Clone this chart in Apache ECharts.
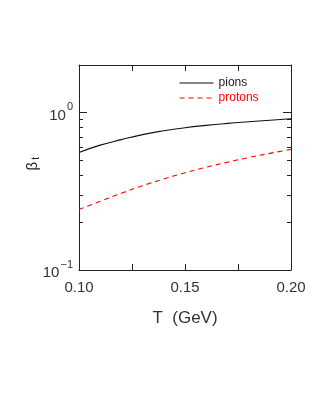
<!DOCTYPE html>
<html><head><meta charset="utf-8">
<script src="https://cdn.jsdelivr.net/npm/echarts@6/dist/echarts.min.js"></script>
<style>html,body{margin:0;padding:0;background:#fff}#c{width:327px;height:409px}</style>
</head><body><div id="c"></div>
<script>
const T = [0.10,0.11,0.12,0.13,0.14,0.15,0.16,0.17,0.18,0.19,0.20];
const pions = [0.557,0.62,0.672,0.723,0.765,0.80,0.828,0.852,0.873,0.893,0.912];
const protons = [0.242,0.273,0.307,0.343,0.378,0.414,0.449,0.483,0.517,0.55,0.583];
const xLabels = [0.10,0.15,0.20];
const yMajor = [0.1,1];
const yMinor = [0.2,0.3,0.4,0.5,0.6,0.7,0.8,0.9];
const FONT = 'Liberation Sans, Arial, sans-serif';
const chart = echarts.init(document.getElementById('c'));
const lineC = '#222';
function yax(pos, ticks, len, labels, showLine){
  return {type:'log', logBase:10, min:0.1, max:2, position:pos,
    axisLine:{show:showLine, lineStyle:{color:lineC,width:1}},
    axisTick:{show:true, inside:true, length:len, customValues:ticks, lineStyle:{color:lineC}},
    axisLabel:labels ? {show:true, customValues:yMajor, margin:6, color:'#333', fontFamily:FONT,
      formatter:v=> v>=1 ? '{b|10}{s|0}' : '{b|10}{s|\u22121}',
      rich:{b:{fontSize:15,fontFamily:FONT,color:'#333',padding:[6,0,0,0]},s:{fontSize:11,fontFamily:FONT,color:'#333',verticalAlign:'top',padding:[0,0,0,1]}}} : {show:false},
    splitLine:{show:false}, minorTick:{show:false}};
}
chart.setOption({
  animation:false,
  grid:{left:79,right:36,top:65,bottom:139},
  legend:{orient:'vertical', left:174, top:72, itemWidth:34, itemHeight:10, itemGap:3,
    itemStyle:{opacity:0}, lineStyle:{width:1.1},
    textStyle:{fontFamily:FONT,fontSize:12,color:'#222'},
    data:[{name:'pions'},{name:'protons',textStyle:{color:'#ff0000'}}]},
  xAxis:[
    {type:'value', min:0.1, max:0.2, interval:0.025, position:'bottom',
     axisLine:{lineStyle:{color:lineC}}, axisTick:{inside:true,length:6,lineStyle:{color:lineC}},
     axisLabel:{customValues:xLabels, formatter:v=>v.toFixed(2), margin:10, fontSize:15, color:'#333', fontFamily:FONT},
     splitLine:{show:false},
     name:'T  (GeV)', nameLocation:'middle', nameGap:40, nameTextStyle:{fontSize:17,color:'#333',fontFamily:FONT}},
    {type:'value', min:0.1, max:0.2, interval:0.025, position:'top',
     axisLine:{lineStyle:{color:lineC}}, axisTick:{inside:true,length:6,lineStyle:{color:lineC}},
     axisLabel:{show:false}, splitLine:{show:false}}
  ],
  yAxis:[
    yax('left',[1],8,true,true),
    yax('left',yMinor,4,false,false),
    yax('right',[1],8,false,true),
    yax('right',yMinor,4,false,false)
  ],
  graphic:[{type:'text', left:25, top:157, rotation:Math.PI/2,
    style:{text:'{b|\u03b2}{s|t}', rich:{b:{fontSize:15,fontFamily:FONT,fill:'#222'},s:{fontSize:10,fontFamily:FONT,fill:'#222',padding:[7,0,0,2]}}}}],
  series:[
    {name:'pions', type:'line', smooth:true, symbol:'none', xAxisIndex:0, yAxisIndex:0,
     data:T.map((t,i)=>[t,pions[i]]), lineStyle:{color:'#111',width:1.1}, itemStyle:{color:'#111'}},
    {name:'protons', type:'line', smooth:true, symbol:'none', xAxisIndex:0, yAxisIndex:0,
     data:T.map((t,i)=>[t,protons[i]]), lineStyle:{color:'#ff0000',width:1.1,type:[5,4]}, itemStyle:{color:'#ff0000'}}
  ]
});
</script></body></html>
